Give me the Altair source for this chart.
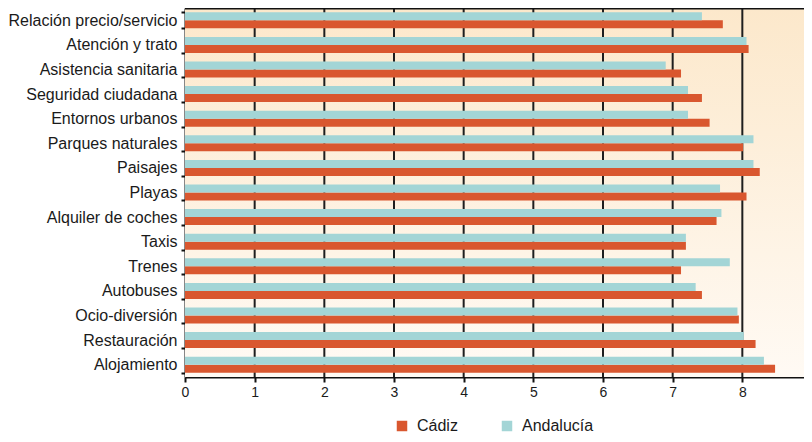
import altair as alt
import pandas as pd

categories = [
    "Relación precio/servicio", "Atención y trato", "Asistencia sanitaria",
    "Seguridad ciudadana", "Entornos urbanos", "Parques naturales", "Paisajes",
    "Playas", "Alquiler de coches", "Taxis", "Trenes", "Autobuses",
    "Ocio-diversión", "Restauración", "Alojamiento",
]
cadiz = [7.72, 8.09, 7.12, 7.42, 7.53, 8.01, 8.25, 8.06, 7.63, 7.19, 7.12, 7.42, 7.95, 8.19, 8.47]
andalucia = [7.42, 8.06, 6.90, 7.22, 7.22, 8.16, 8.16, 7.68, 7.70, 7.19, 7.82, 7.33, 7.93, 8.02, 8.31]
series = ["Cádiz", "Andalucía"]
colors = ["#d9572f", "#a3d5d6"]
x_ticks = [0, 1, 2, 3, 4, 5, 6, 7, 8, 9]
grid_ticks = [1, 2, 3, 4, 5, 6, 7, 8, 9]

rows = []
for c, vc, va in zip(categories, cadiz, andalucia):
    rows.append({"cat": c, "serie": "Cádiz", "valor": vc})
    rows.append({"cat": c, "serie": "Andalucía", "valor": va})
df = pd.DataFrame(rows)

FONT = "Liberation Sans"
INK = "#1a1a1a"

x_scale = alt.Scale(domain=[0, 9], nice=False, zero=True, range=[0, 627])
x_axis = alt.Axis(
    values=x_ticks, format="d", grid=False, title=None,
    labelFontSize=14, labelFont=FONT, labelColor=INK, labelPadding=3,
    labelFlush=False, tickColor="#111", tickWidth=2, tickSize=5,
    domainColor="#111", domainWidth=2,
)
y_axis = alt.Axis(
    title=None, tickBand="extent", grid=False,
    labelFontSize=16, labelFont=FONT, labelColor=INK, labelPadding=4,
    labelLimit=300, tickSize=4, tickWidth=2, tickColor="#111",
    domainColor="#111", domainWidth=2,
)

frame = pd.DataFrame({"x0": [0], "x1": [9]})

bg = alt.Chart(frame).mark_rect(
    fill=alt.Gradient(
        gradient="linear", x1=0, y1=1, x2=0, y2=0,
        stops=[alt.GradientStop(color="#fffaf4", offset=0),
               alt.GradientStop(color="#fce8cb", offset=1)],
    )
).encode(
    x=alt.X("x0:Q", scale=x_scale, axis=x_axis),
    x2="x1:Q",
)

top_line = alt.Chart(frame).mark_rule(color="#111", strokeWidth=2).encode(
    x=alt.X("x0:Q", scale=x_scale, axis=x_axis),
    x2="x1:Q",
    y=alt.value(0.5),
)

rules = alt.Chart(pd.DataFrame({"t": grid_ticks})).mark_rule(
    color="#1e1e1e", strokeWidth=2
).encode(x=alt.X("t:Q", scale=x_scale, axis=x_axis))

bars = alt.Chart(df).mark_bar().encode(
    x=alt.X("valor:Q", scale=x_scale, axis=x_axis),
    y=alt.Y("cat:N", sort=categories,
            scale=alt.Scale(paddingInner=0.35, paddingOuter=0.175), axis=y_axis),
    yOffset=alt.YOffset("serie:N", sort=["Andalucía", "Cádiz"],
                        scale=alt.Scale(domain=["Andalucía", "Cádiz"], paddingInner=0)),
    color=alt.Color(
        "serie:N",
        scale=alt.Scale(domain=series, range=colors),
        legend=alt.Legend(
            title=None, orient="none", legendX=209, legendY=410,
            direction="horizontal", symbolType="square", symbolSize=110,
            symbolStrokeWidth=0, labelFontSize=16, labelFont=FONT,
            labelColor=INK, columnPadding=41, labelOffset=7, padding=0,
        ),
    ),
)

chart = alt.layer(bg, rules, top_line, bars).properties(
    width=619, height=369,
    autosize=alt.AutoSizeParams(type="none"),
    padding={"left": 177, "top": 0, "right": 0, "bottom": 57},
    background="white",
).configure_view(stroke=None)

chart.save("out.html", embed_options={"renderer": "svg", "actions": False})
